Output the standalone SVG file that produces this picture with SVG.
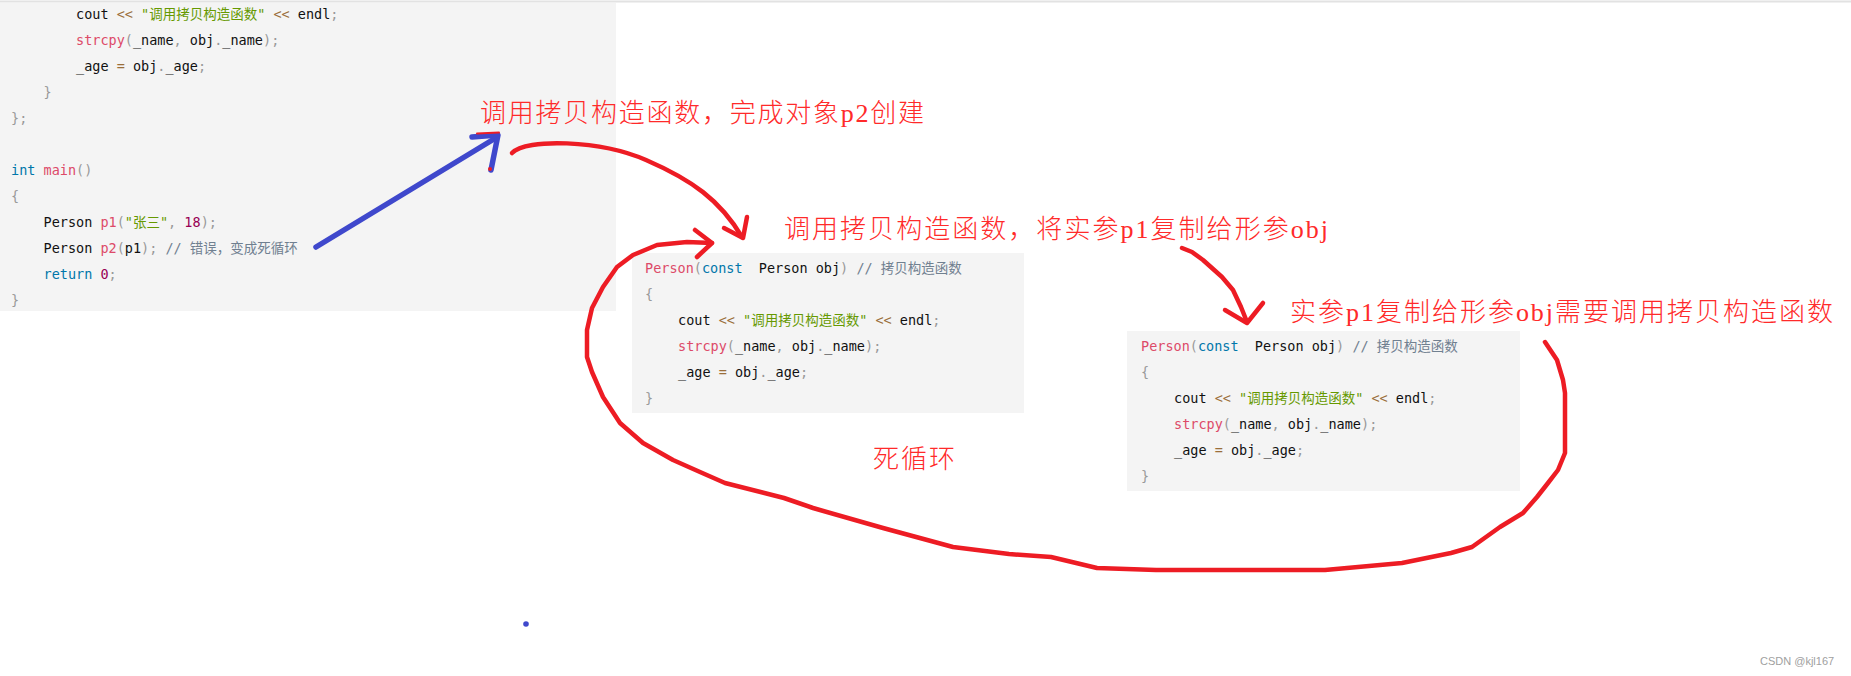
<svg xmlns="http://www.w3.org/2000/svg" width="1851" height="676" viewBox="0 0 1851 676">
<style>
.bg{fill:#f4f4f4}
.code{font-family:"DejaVu Sans Mono","Noto Sans CJK SC",monospace;font-size:13.5px;fill:#111;white-space:pre}
.p{fill:#999}.o{fill:#9a6e3a}.s{fill:#690}.f{fill:#dd4a68}.k{fill:#07a}.n{fill:#905}.c{fill:#708090}
.note{font-family:"Liberation Serif","Noto Sans CJK SC",serif;font-size:26px;font-weight:300;fill:#ff2a2a}
.red{fill:none;stroke:#ed1c24;stroke-width:4.5;stroke-linecap:round;stroke-linejoin:round}
.blue{fill:none;stroke:#3f48cc;stroke-width:5.5;stroke-linecap:round;stroke-linejoin:round}
.wm{font-family:"Liberation Sans",Arial,sans-serif;font-size:11px;fill:#a0a0a0}
</style>
<rect x="0" y="0" width="1851" height="676" fill="#ffffff"/>
<line x1="0" y1="1.5" x2="1851" y2="1.5" stroke="#e2e2e2" stroke-width="2"/>

<g id="block1" class="code">
<rect class="bg" x="0" y="3" width="616" height="308"/>
<text xml:space="preserve" x="76" y="19">cout <tspan class="o">&lt;&lt;</tspan> <tspan class="s">"调用拷贝构造函数"</tspan> <tspan class="o">&lt;&lt;</tspan> endl<tspan class="p">;</tspan></text>
<text xml:space="preserve" x="76" y="45"><tspan class="f">strcpy</tspan><tspan class="p">(</tspan>_name<tspan class="p">,</tspan> obj<tspan class="p">.</tspan>_name<tspan class="p">);</tspan></text>
<text xml:space="preserve" x="76" y="71">_age <tspan class="o">=</tspan> obj<tspan class="p">.</tspan>_age<tspan class="p">;</tspan></text>
<text x="43.5" y="97" class="p">}</text>
<text x="11" y="123" class="p">};</text>
<text xml:space="preserve" x="11" y="175"><tspan class="k">int</tspan> <tspan class="f">main</tspan><tspan class="p">()</tspan></text>
<text x="11" y="201" class="p">{</text>
<text xml:space="preserve" x="43.5" y="227">Person <tspan class="f">p1</tspan><tspan class="p">(</tspan><tspan class="s">"张三"</tspan><tspan class="p">,</tspan> <tspan class="n">18</tspan><tspan class="p">);</tspan></text>
<text xml:space="preserve" x="43.5" y="253">Person <tspan class="f">p2</tspan><tspan class="p">(</tspan>p1<tspan class="p">);</tspan> <tspan class="c">// 错误，变成死循环</tspan></text>
<text xml:space="preserve" x="43.5" y="279"><tspan class="k">return</tspan> <tspan class="n">0</tspan><tspan class="p">;</tspan></text>
<text x="11" y="305" class="p">}</text>
</g>

<g id="block2" class="code">
<rect class="bg" x="632" y="253" width="392" height="160"/>
<text xml:space="preserve" x="645" y="273"><tspan class="f">Person</tspan><tspan class="p">(</tspan><tspan class="k">const</tspan>  Person obj<tspan class="p">)</tspan> <tspan class="c">// 拷贝构造函数</tspan></text>
<text x="645" y="299" class="p">{</text>
<text xml:space="preserve" x="678" y="325">cout <tspan class="o">&lt;&lt;</tspan> <tspan class="s">"调用拷贝构造函数"</tspan> <tspan class="o">&lt;&lt;</tspan> endl<tspan class="p">;</tspan></text>
<text xml:space="preserve" x="678" y="351"><tspan class="f">strcpy</tspan><tspan class="p">(</tspan>_name<tspan class="p">,</tspan> obj<tspan class="p">.</tspan>_name<tspan class="p">);</tspan></text>
<text xml:space="preserve" x="678" y="377">_age <tspan class="o">=</tspan> obj<tspan class="p">.</tspan>_age<tspan class="p">;</tspan></text>
<text x="645" y="403" class="p">}</text>
</g>

<g id="block3" class="code">
<rect class="bg" x="1127" y="331" width="393" height="160"/>
<text xml:space="preserve" x="1141" y="351"><tspan class="f">Person</tspan><tspan class="p">(</tspan><tspan class="k">const</tspan>  Person obj<tspan class="p">)</tspan> <tspan class="c">// 拷贝构造函数</tspan></text>
<text x="1141" y="377" class="p">{</text>
<text xml:space="preserve" x="1174" y="403">cout <tspan class="o">&lt;&lt;</tspan> <tspan class="s">"调用拷贝构造函数"</tspan> <tspan class="o">&lt;&lt;</tspan> endl<tspan class="p">;</tspan></text>
<text xml:space="preserve" x="1174" y="429"><tspan class="f">strcpy</tspan><tspan class="p">(</tspan>_name<tspan class="p">,</tspan> obj<tspan class="p">.</tspan>_name<tspan class="p">);</tspan></text>
<text xml:space="preserve" x="1174" y="455">_age <tspan class="o">=</tspan> obj<tspan class="p">.</tspan>_age<tspan class="p">;</tspan></text>
<text x="1141" y="481" class="p">}</text>
</g>

<g id="label1"><text class="note" x="480" y="122" textLength="444" lengthAdjust="spacing">调用拷贝构造函数，完成对象p2创建</text></g>
<g id="label2"><text class="note" x="784" y="238" textLength="544" lengthAdjust="spacing">调用拷贝构造函数，将实参p1复制给形参obj</text></g>
<g id="label3"><text class="note" x="1290" y="321" textLength="543" lengthAdjust="spacing">实参p1复制给形参obj需要调用拷贝构造函数</text></g>
<g id="label4"><text class="note" x="873" y="468" textLength="82" lengthAdjust="spacing">死循环</text></g>

<g id="connectors">
<path class="blue" d="M316,247 L494,139"/>
<path class="blue" d="M472,137 L498,135 L491,170"/>
<path fill="none" stroke="#ed1c24" stroke-width="2" stroke-linecap="round" d="M477,133.5 L499,132.5"/>
<circle cx="490" cy="169" r="2" fill="#ed1c24"/>
<path class="red" d="M512,153 C526,138 600,140 646,160 S720,200 742,237"/>
<path class="red" d="M724,228 L743,238 L747,217"/>
<polyline class="red" points="712,243 687,242 657,245 633,255 617,267 603,287 592,308 587,330 587,357 592,372 603,397 620,423 643,443 673,460 700,472 725,483 784,498 813,508 883,528 953,547 1009,554 1051,557 1097,568 1156,570 1325,570 1402,563 1451,553 1472,547 1500,527 1523,513 1537,497 1548,483 1558,470 1565,453 1565,393 1563,380 1557,360 1545,342"/>
<path class="red" d="M695,230 L712,243 L697,257"/>
<polyline class="red" points="1182,248 1192,252 1203,260 1222,277 1233,290 1241,307 1247,322"/>
<path class="red" d="M1225,310 L1247,323 L1263,303"/>
</g>

<circle id="dot" cx="526" cy="624" r="2.8" fill="#3f48cc"/>
<g id="watermark"><text class="wm" x="1760" y="665">CSDN @kjl167</text></g>
</svg>
